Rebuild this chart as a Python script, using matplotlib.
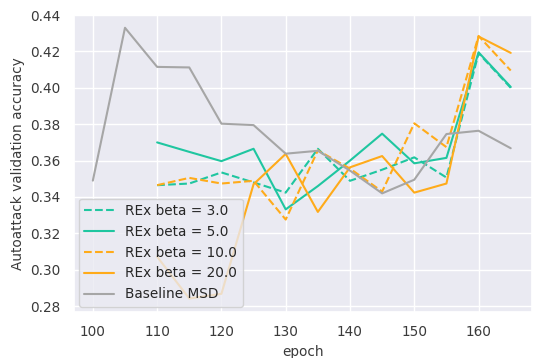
import matplotlib
matplotlib.use("Agg")
import matplotlib.pyplot as plt
import seaborn as sns

sns.set_theme(style="darkgrid")

# epochs
epochs_rex = [110, 115, 120, 125, 130, 135, 140, 145, 150, 155, 160, 165]
epochs_base = [100, 105, 110, 115, 120, 125, 130, 135, 140, 145, 150, 155, 160, 165]

# validation accuracy
rex_beta_3 = [0.3465, 0.3474, 0.3535, 0.348, 0.3424, 0.3665, 0.3489, 0.355, 0.3618, 0.3507, 0.419, 0.400]
rex_beta_5 = [0.370, 0.3648, 0.3597, 0.3665, 0.3332, 0.346, 0.360, 0.3748, 0.3585, 0.3615, 0.4195, 0.4005]
rex_beta_10 = [0.3465, 0.3505, 0.3474, 0.3489, 0.3276, 0.3656, 0.3556, 0.343, 0.3805, 0.3674, 0.4285, 0.4095]
rex_beta_20 = [0.3072, 0.2842, 0.2868, 0.347, 0.3637, 0.3318, 0.3563, 0.3625, 0.3424, 0.3474, 0.4282, 0.4192]
baseline_msd = [0.349, 0.433, 0.4115, 0.4112, 0.3803, 0.3795, 0.3638, 0.3654, 0.3545, 0.342, 0.3495, 0.3746, 0.3764, 0.3668]

teal = "#1fc6a0"
orange = "#ffab1a"
grey = "#a6a6a6"

fig = plt.figure(figsize=(5.33, 3.58), dpi=100)
ax = fig.add_axes([0.138, 0.128, 0.860, 0.830])

lw = 1.5
ax.plot(epochs_rex, rex_beta_3, color=teal, ls="--", lw=lw, label="REx beta = 3.0")
ax.plot(epochs_rex, rex_beta_5, color=teal, ls="-", lw=lw, label="REx beta = 5.0")
ax.plot(epochs_rex, rex_beta_10, color=orange, ls="--", lw=lw, label="REx beta = 10.0")
ax.plot(epochs_rex, rex_beta_20, color=orange, ls="-", lw=lw, label="REx beta = 20.0")
ax.plot(epochs_base, baseline_msd, color=grey, ls="-", lw=lw, label="Baseline MSD")

ax.set_xlim(97.0, 168.3)
ax.set_ylim(0.2767, 0.4398)
ax.set_xticks([100, 110, 120, 130, 140, 150, 160])
ax.set_yticks([0.28, 0.30, 0.32, 0.34, 0.36, 0.38, 0.40, 0.42, 0.44])
ax.tick_params(labelsize=9.8, colors="#3a3a3a")
ax.set_xlabel("epoch", fontsize=9.8, color="#3a3a3a")
ax.set_ylabel("Autoattack validation accuracy", fontsize=9.8, color="#3a3a3a")

leg = ax.legend(loc="lower left", fontsize=9.8, framealpha=0.8, handlelength=2.2,
                borderaxespad=0.4)

fig.savefig("out.png", dpi=100)
